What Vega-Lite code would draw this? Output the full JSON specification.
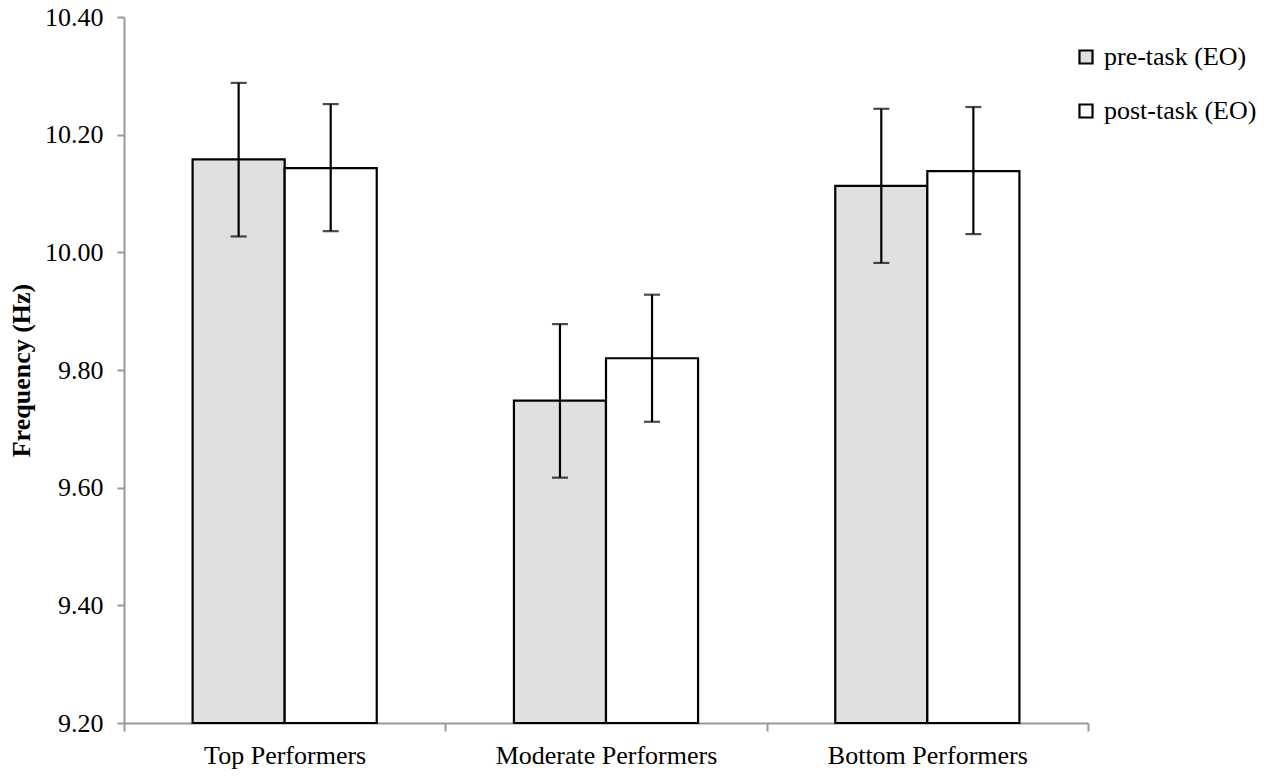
{
  "$schema": "https://vega.github.io/schema/vega-lite/v6.json",
  "autosize": {"type": "none"},
  "padding": {"left": 124, "top": 17, "right": 179, "bottom": 59},
  "width": 964,
  "height": 706,
  "background": "white",
  "config": {
    "view": {"stroke": null},
    "axis": {"labelFont": "Liberation Serif, DejaVu Serif, serif", "titleFont": "Liberation Serif, DejaVu Serif, serif"},
    "legend": {"labelFont": "Liberation Serif, DejaVu Serif, serif"}
  },
  "data": {
    "values": [
      {"group": "Top Performers", "phase": "pre-task (EO)", "mean": 10.158, "lo": 10.027, "hi": 10.288},
      {"group": "Top Performers", "phase": "post-task (EO)", "mean": 10.143, "lo": 10.036, "hi": 10.252},
      {"group": "Moderate Performers", "phase": "pre-task (EO)", "mean": 9.748, "lo": 9.617, "hi": 9.878},
      {"group": "Moderate Performers", "phase": "post-task (EO)", "mean": 9.820, "lo": 9.712, "hi": 9.928},
      {"group": "Bottom Performers", "phase": "pre-task (EO)", "mean": 10.113, "lo": 9.982, "hi": 10.244},
      {"group": "Bottom Performers", "phase": "post-task (EO)", "mean": 10.138, "lo": 10.031, "hi": 10.247}
    ]
  },
  "encoding": {
    "x": {
      "field": "group",
      "type": "nominal",
      "sort": ["Top Performers", "Moderate Performers", "Bottom Performers"],
      "scale": {"paddingInner": 0, "paddingOuter": 0},
      "axis": {
        "title": null,
        "labelAngle": 0,
        "labelFontSize": 26,
        "labelLimit": 0,
        "labelColor": "black",
        "labelPadding": 11,
        "tickBand": "extent",
        "tickSize": 8,
        "tickWidth": 2,
        "tickColor": "#999999",
        "domainColor": "#999999",
        "domainWidth": 2
      }
    },
    "xOffset": {
      "field": "phase",
      "type": "nominal",
      "sort": ["pre-task (EO)", "post-task (EO)"],
      "scale": {"paddingInner": 0, "paddingOuter": 0.745}
    }
  },
  "layer": [
    {
      "mark": {"type": "bar", "stroke": "black", "strokeWidth": 2.2},
      "encoding": {
        "y": {
          "field": "mean",
          "type": "quantitative",
          "scale": {"domain": [9.2, 10.4], "zero": false, "nice": false},
          "axis": {
            "title": "Frequency (Hz)",
            "titleFontSize": 26,
            "titleFontWeight": "bold",
            "titleColor": "black",
            "titlePadding": 10,
            "values": [9.2, 9.4, 9.6, 9.8, 10.0, 10.2, 10.4],
            "format": ".2f",
            "labelFontSize": 26,
            "labelColor": "black",
            "labelPadding": 14,
            "tickSize": 7,
            "tickWidth": 2,
            "tickColor": "#999999",
            "domainColor": "#999999",
            "domainWidth": 2,
            "grid": false
          }
        },
        "y2": {"datum": 9.2},
        "fill": {
          "field": "phase",
          "type": "nominal",
          "sort": ["pre-task (EO)", "post-task (EO)"],
          "scale": {"range": ["#e0e0e0", "#ffffff"]},
          "legend": {
            "title": null,
            "orient": "none",
            "legendX": 949,
            "legendY": 27,
            "symbolType": "square",
            "symbolSize": 170,
            "symbolStrokeColor": "black",
            "symbolStrokeWidth": 2.2,
            "labelFontSize": 26,
            "labelLimit": 0,
            "labelColor": "black",
            "labelOffset": 5,
            "rowPadding": 28
          }
        }
      }
    },
    {
      "mark": {"type": "rule", "color": "black", "strokeWidth": 2.2},
      "encoding": {
        "y": {"field": "lo", "type": "quantitative"},
        "y2": {"field": "hi"}
      }
    },
    {
      "mark": {"type": "tick", "color": "black", "size": 16, "thickness": 2.2, "orient": "horizontal"},
      "encoding": {
        "y": {"field": "lo", "type": "quantitative"}
      }
    },
    {
      "mark": {"type": "tick", "color": "black", "size": 16, "thickness": 2.2, "orient": "horizontal"},
      "encoding": {
        "y": {"field": "hi", "type": "quantitative"}
      }
    }
  ]
}
